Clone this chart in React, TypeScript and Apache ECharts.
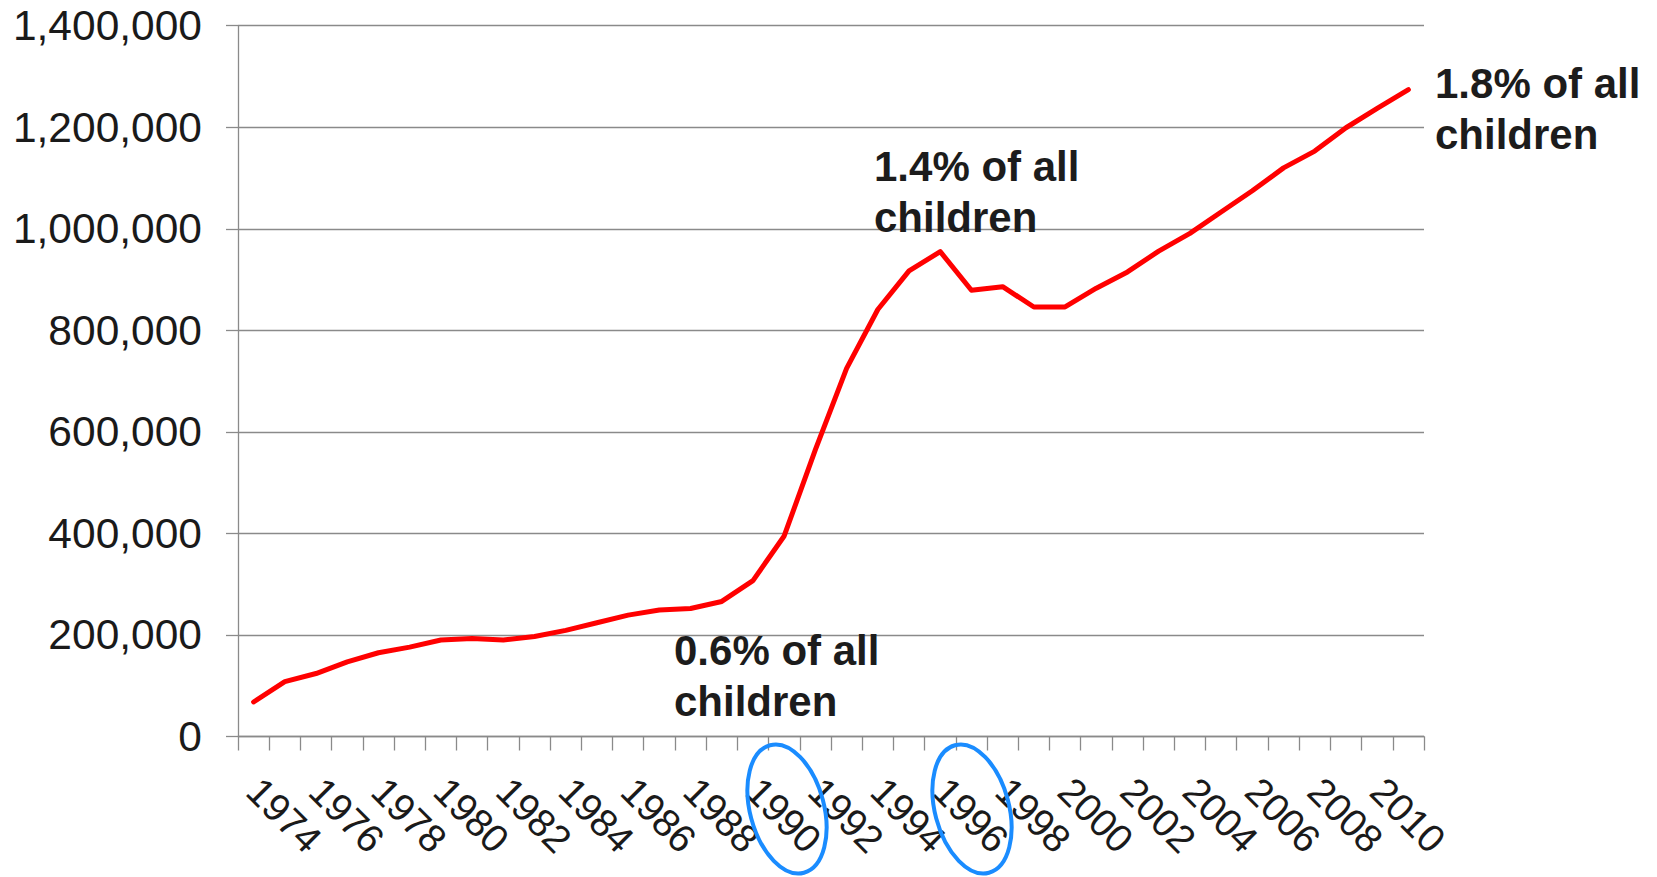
import React, { useEffect, useRef } from "react";
import * as echarts from "echarts";

const years: string[] = [
  "1974", "1975", "1976", "1977", "1978", "1979", "1980", "1981", "1982", "1983",
  "1984", "1985", "1986", "1987", "1988", "1989", "1990", "1991", "1992", "1993",
  "1994", "1995", "1996", "1997", "1998", "1999", "2000", "2001", "2002", "2003",
  "2004", "2005", "2006", "2007", "2008", "2009", "2010", "2011",
];

const children: number[] = [
  68000, 108000, 124000, 147000, 165000, 176000, 190000, 193000, 190000, 197000,
  209000, 224000, 239000, 249000, 252000, 266000, 307000, 395000, 565000, 725000,
  841000, 917000, 955000, 879000, 886000, 846000, 846000, 883000, 915000, 956000,
  991000, 1033000, 1075000, 1120000, 1153000, 1199000, 1237000, 1274000,
];

const notes: { lines: string[]; x: number; y: number }[] = [
  { lines: ["0.6% of all", "children"], x: 674, y: 650 },
  { lines: ["1.4% of all", "children"], x: 874, y: 166 },
  { lines: ["1.8% of all", "children"], x: 1435, y: 83 },
];

const circled: { x: number; y: number }[] = [
  { x: 787, y: 809 },
  { x: 972, y: 809 },
];

const FONT = '"Liberation Sans", Arial, Helvetica, sans-serif';
const GRID_COLOR = "#8a8a8a";

export default function App() {
  const ref = useRef<HTMLDivElement>(null);

  useEffect(() => {
    if (!ref.current) return;
    const chart = echarts.init(ref.current, undefined, { renderer: "svg" });

    const graphics: any[] = [];
    notes.forEach((n) => {
      n.lines.forEach((line, i) => {
        graphics.push({
          type: "text",
          x: n.x,
          y: n.y + i * 51,
          z: 10,
          style: {
            text: line,
            fill: "#1c1c1c",
            font: `bold 42px ${FONT}`,
            align: "left",
            verticalAlign: "middle",
            textAlign: "left",
            textVerticalAlign: "middle",
          },
        });
      });
    });
    circled.forEach((c) => {
      graphics.push({
        type: "ellipse",
        x: c.x,
        y: c.y,
        rotation: 0.26,
        z: 10,
        shape: { cx: 0, cy: 0, rx: 37, ry: 66 },
        style: { fill: "none", stroke: "#1a8cff", lineWidth: 4 },
      });
    });

    chart.setOption({
      animation: false,
      backgroundColor: "#ffffff",
      grid: { left: 238, right: 233, top: 25.7, bottom: 140.5, containLabel: false },
      xAxis: {
        type: "category",
        data: years,
        boundaryGap: true,
        axisLine: { show: true, lineStyle: { color: GRID_COLOR, width: 1.3 } },
        axisTick: { show: true, interval: 0, length: 14, lineStyle: { color: GRID_COLOR, width: 1.3 } },
        axisLabel: {
          interval: 1,
          rotate: -45,
          margin: 48,
          color: "#1a1a1a",
          fontSize: 39,
          fontFamily: FONT,
        },
        splitLine: { show: false },
      },
      yAxis: {
        type: "value",
        min: 0,
        max: 1400000,
        interval: 200000,
        axisLine: { show: true, lineStyle: { color: GRID_COLOR, width: 1.3 } },
        axisTick: { show: true, length: 12, lineStyle: { color: GRID_COLOR, width: 1.3 } },
        axisLabel: {
          margin: 36,
          color: "#1a1a1a",
          fontSize: 42.5,
          fontFamily: FONT,
          formatter: (v: number) => v.toLocaleString("en-US"),
        },
        splitLine: { show: true, lineStyle: { color: GRID_COLOR, width: 1.3 } },
      },
      series: [
        {
          type: "line",
          data: children,
          symbol: "none",
          lineStyle: { color: "#ff0000", width: 5, cap: "round", join: "round" },
          itemStyle: { color: "#ff0000" },
        },
      ],
      graphic: graphics,
    });

    return () => chart.dispose();
  }, []);

  return (
    <div
      ref={ref}
      style={{ position: "absolute", left: 0, top: 0, width: 1657, height: 877 }}
    />
  );
}
